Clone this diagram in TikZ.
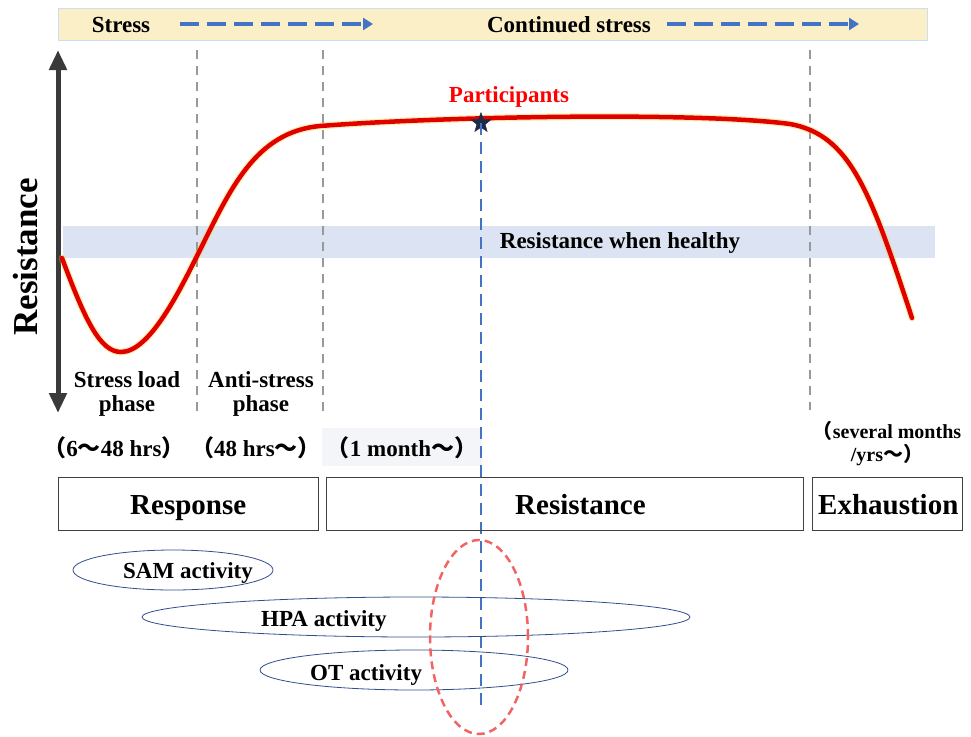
\documentclass[tikz,border=0pt]{standalone}
\usepackage{fontspec}
\setmainfont{Liberation Serif}
\newfontfamily\cjk{Noto Sans CJK SC}
\usetikzlibrary{arrows.meta}
\usetikzlibrary{shapes.geometric}

\definecolor{bannerfill}{HTML}{FBEFC8}
\definecolor{bannerline}{HTML}{CFDDF3}
\definecolor{healthyfill}{HTML}{DCE4F3}
\definecolor{arrowblue}{HTML}{4472C4}
\definecolor{curvered}{HTML}{E00000}
\definecolor{axisgray}{HTML}{3A3A3A}
\definecolor{phasegray}{HTML}{999999}
\definecolor{ellblue}{HTML}{2F4E8C}
\definecolor{ringred}{HTML}{F26464}
\definecolor{monthfill}{HTML}{F3F5F8}
\definecolor{starnavy}{HTML}{1F2A44}

\newcommand{\fwl}{{\cjk （}}
\newcommand{\fwr}{{\cjk ）}}
\newcommand{\fwt}{{\cjk ～}}

\tikzset{
  lbl/.style={font=\bfseries\fontsize{23}{24}\selectfont, align=center, inner sep=1pt},
  stagebox/.style={draw=black!75, line width=0.8pt, minimum height=53pt, inner sep=0pt,
    anchor=north west},
  stagetxt/.style={font=\bfseries\fontsize{29}{30}\selectfont, inner sep=0pt, anchor=base west},
  activity/.style={ellipse, draw=ellblue, line width=0.8pt, inner sep=0pt, minimum height=40pt},
  acttxt/.style={font=\bfseries\fontsize{23}{24}\selectfont, inner sep=0pt, anchor=base west},
  phaseline/.style={phasegray, line width=1.6pt, dash pattern=on 9pt off 7pt},
  stressarrow/.style={arrowblue, line width=4pt, dash pattern=on 19pt off 8pt,
    -{Triangle[length=10pt,width=12pt]}},
}

\begin{document}
\begin{tikzpicture}[x=1pt,y=-1pt]
	\useasboundingbox (0,0) rectangle (971,736);

	% stress banner
	\node[draw=bannerline, fill=bannerfill, line width=0.8pt, minimum width=869pt,
	  minimum height=32pt, inner sep=0pt, anchor=north west] (banner) at (58,8) {};
	\node[lbl] (stress) at (121,25) {Stress};
	\coordinate (sa1) at (180,24);
	\coordinate (sa2) at (373,24);
	\draw[stressarrow] (sa1) -- (sa2);
	\node[lbl] (cont) at (569,25) {Continued stress};
	\coordinate (ca1) at (667,24);
	\coordinate (ca2) at (859,24);
	\draw[stressarrow] (ca1) -- (ca2);

	% healthy band
	\node[fill=healthyfill, minimum width=872pt, minimum height=32pt, inner sep=0pt,
	  anchor=north west] (healthy) at (63,226) {};
	\node[lbl] (healthytxt) at (620,243) {Resistance when healthy};

	% axis
	\coordinate (ax1) at (58,50);
	\coordinate (ax2) at (58,413);
	\draw[axisgray, line width=5pt, {Triangle[length=20pt,width=17pt]}-{Triangle[length=20pt,width=17pt]}] (ax1) -- (ax2);
	\node[rotate=90, font=\bfseries\fontsize{35}{36}\selectfont, inner sep=0pt] (axlbl) at (26,257) {Resistance};

	% phase borders
	\foreach \px/\py in {197/415, 323/415, 810/410}
		\draw[phaseline] (\px,50) -- (\px,\py);

	% one month background
	\node[fill=monthfill, minimum width=160pt, minimum height=38pt, inner sep=0pt,
	  anchor=north west] (monthbg) at (322,428) {};

	% resistance curve
	\draw[yellow!60!orange, line width=7pt, opacity=0.3, line cap=round]
	  (62,258) .. controls (85,320) and (100,352) .. (121,352)
	  .. controls (150,352) and (180,290) .. (200,250)
	  .. controls (230,190) and (255,132) .. (320,126)
	  .. controls (450,116) and (700,112) .. (790,124)
	  .. controls (850,135) and (870,190) .. (912,318);
	\draw[curvered, line width=4.5pt, line cap=round]
	  (62,258) .. controls (85,320) and (100,352) .. (121,352)
	  .. controls (150,352) and (180,290) .. (200,250)
	  .. controls (230,190) and (255,132) .. (320,126)
	  .. controls (450,116) and (700,112) .. (790,124)
	  .. controls (850,135) and (870,190) .. (912,318);

	% participants
	\node[star, star points=5, star point ratio=2.4, fill=starnavy, draw=starnavy,
	  minimum size=21pt, inner sep=0pt] (part) at (481,123) {};
	\node[lbl, text=red, inner sep=0pt] (partlbl) at (509,97) {Participants};
	\coordinate (pend) at (481,711);
	\draw[arrowblue, line width=2.6pt, dash pattern=on 12pt off 7pt] (part.center) -- (pend);

	% phase labels
	\node[lbl] (loadlbl) at (127,394) {Stress load\\phase};
	\node[lbl] (antilbl) at (261,394) {Anti-stress\\phase};
	\node[lbl] (t1) at (114,448) {\fwl 6\fwt 48 hrs\fwr};
	\node[lbl] (t2) at (256,448) {\fwl 48 hrs\fwt\fwr};
	\node[lbl] (t3) at (402,448) {\fwl 1 month\fwt\fwr};
	\node[lbl, font=\bfseries\fontsize{20}{23}\selectfont] (t4) at (887,444) {\fwl several months\\/yrs\fwt\fwr};

	% stages
	\node[stagebox, minimum width=260pt] (response) at (58,477) {};
	\node[stagebox, minimum width=477pt] (resist) at (326,477) {};
	\node[stagebox, minimum width=150pt] (exhaust) at (812,477) {};
	\node[stagetxt] (responsetxt) at (130,514) {Response};
	\node[stagetxt] (resisttxt) at (515,514) {Resistance};
	\node[stagetxt] (exhausttxt) at (818,514) {Exhaustion};

	% activities
	\node[activity, minimum width=200pt] (sam) at (173,570) {};
	\node[activity, minimum width=548pt] (hpa) at (416,617) {};
	\node[activity, minimum width=308pt] (ot) at (414,670) {};
	\node[acttxt] (samtxt) at (123,578) {SAM activity};
	\node[acttxt] (hpatxt) at (261,626) {HPA activity};
	\node[acttxt] (ottxt) at (310,680) {OT activity};

	% participants ring
	\node[ellipse, draw=ringred, line width=2.5pt, dash pattern=on 8pt off 5pt,
	  minimum width=98pt, minimum height=194pt, inner sep=0pt] (ring) at (479,637) {};
\end{tikzpicture}
\end{document}
